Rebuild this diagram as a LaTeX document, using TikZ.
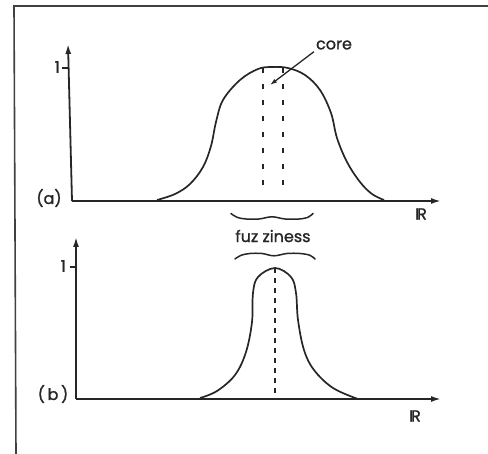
\documentclass[tikz,border=0pt]{standalone}
\usepackage{fontspec}
\setmainfont{Poppins}
\newfontfamily\lblfont{Poppins}[FakeBold=1.2]
\usetikzlibrary{arrows.meta}
\begin{document}
\begin{tikzpicture}[x=1pt,y=-1pt,
  ink/.style={line width=1.8pt,color=black!85},
  axis/.style={ink,-{Latex[length=10pt,width=6pt]}},
  lbl/.style={inner sep=0pt,font=\lblfont\fontsize{16}{18}\selectfont,text=black!85},
  curve/.style={ink,line width=1.7pt},
  core/.style={ink,line width=1.8pt,dash pattern=on 5pt off 11pt},
  mid/.style={ink,line width=1.3pt,dash pattern=on 5pt off 5pt},
  fuzz/.style={ink,line width=1.5pt,line cap=round}]
\useasboundingbox (0,0) rectangle (488,454);
% frame
\coordinate (ftl) at (14,6);
\coordinate (ftr) at (488,6);
\coordinate (fbl) at (16,454);
\draw[line width=1.6pt,black!75] (fbl) -- (ftl) -- (ftr);
% ---------- (a)
\coordinate (ao) at (72,201);
\coordinate (ay) at (68,44);
\coordinate (ax) at (441,201);
\coordinate (at1) at (62,68);
\coordinate (at2) at (69,68);
\draw[axis] (ao) -- (ay);
\draw[axis] (ao) -- (ax);
\draw[ink] (at1) -- (at2);
\node[lbl,anchor=east] (a1) at (60,67) {1};
\node[lbl] (alab) at (49,198) {(a)};
\node[lbl] (aR) at (421,214) {I\kern-2pt R};
\draw[curve] plot[smooth,tension=0.6] coordinates {
 (157,200) (175,194) (190,184) (203,167) (211,146) (216,122) (223,100) (240,80)
 (258,69) (272,67) (288,68) (305,75) (320,90) (331,113) (337,138) (347,162)
 (360,182) (372,194) (384,200)};
\coordinate (c1t) at (263,68);
\coordinate (c1b) at (263,188);
\coordinate (c2t) at (283,68);
\coordinate (c2b) at (283,188);
\draw[core] (c1t) -- (c1b);
\draw[core] (c2t) -- (c2b);
\node[lbl] (core) at (334,45) {core};
\coordinate (coretip) at (270,85);
\draw[ink,line width=1.3pt,-{Latex[length=7pt,width=4.5pt]}] (core.south west) ++(-2,2) -- (coretip);
% ---------- fuzziness
\node[lbl] (fz) at (273,236) {fuz ziness};
\draw[fuzz] plot[smooth,tension=0.6] coordinates {
 (231,213.5) (237,217.3) (246,219) (259,219) (272,216.8) (285,219) (299,219) (308,217.3) (313,213.5)};
\draw[fuzz] plot[smooth,tension=0.6] coordinates {
 (235,259) (241,255.3) (250,253.5) (262,253.5) (274,255.8) (287,253.5) (300,253.5) (310,255.3) (315,259)};
% ---------- (b)
\coordinate (bo) at (76,399);
\coordinate (by) at (76,237);
\coordinate (bx) at (441,399);
\coordinate (bt1) at (70,267);
\coordinate (bt2) at (76,267);
\draw[axis] (bo) -- (by);
\draw[axis] (bo) -- (bx);
\draw[ink] (bt1) -- (bt2);
\node[lbl,anchor=east] (b1) at (66,266) {1};
\node[lbl] (blab) at (53,394) {(\,b\,)};
\node[lbl] (bR) at (415,416) {I\kern-2pt R};
\draw[curve] plot[smooth,tension=0.6] coordinates {
 (200,398) (217,391) (235,375) (246,352) (252,322) (253,293) (258,277)
 (275,268) (291,277) (296,293) (298,320) (304,350) (314,370) (333,388) (358,399)};
\coordinate (mt) at (275,268);
\coordinate (mb) at (275,399);
\draw[mid] (mt) -- (mb);
\end{tikzpicture}
\end{document}
